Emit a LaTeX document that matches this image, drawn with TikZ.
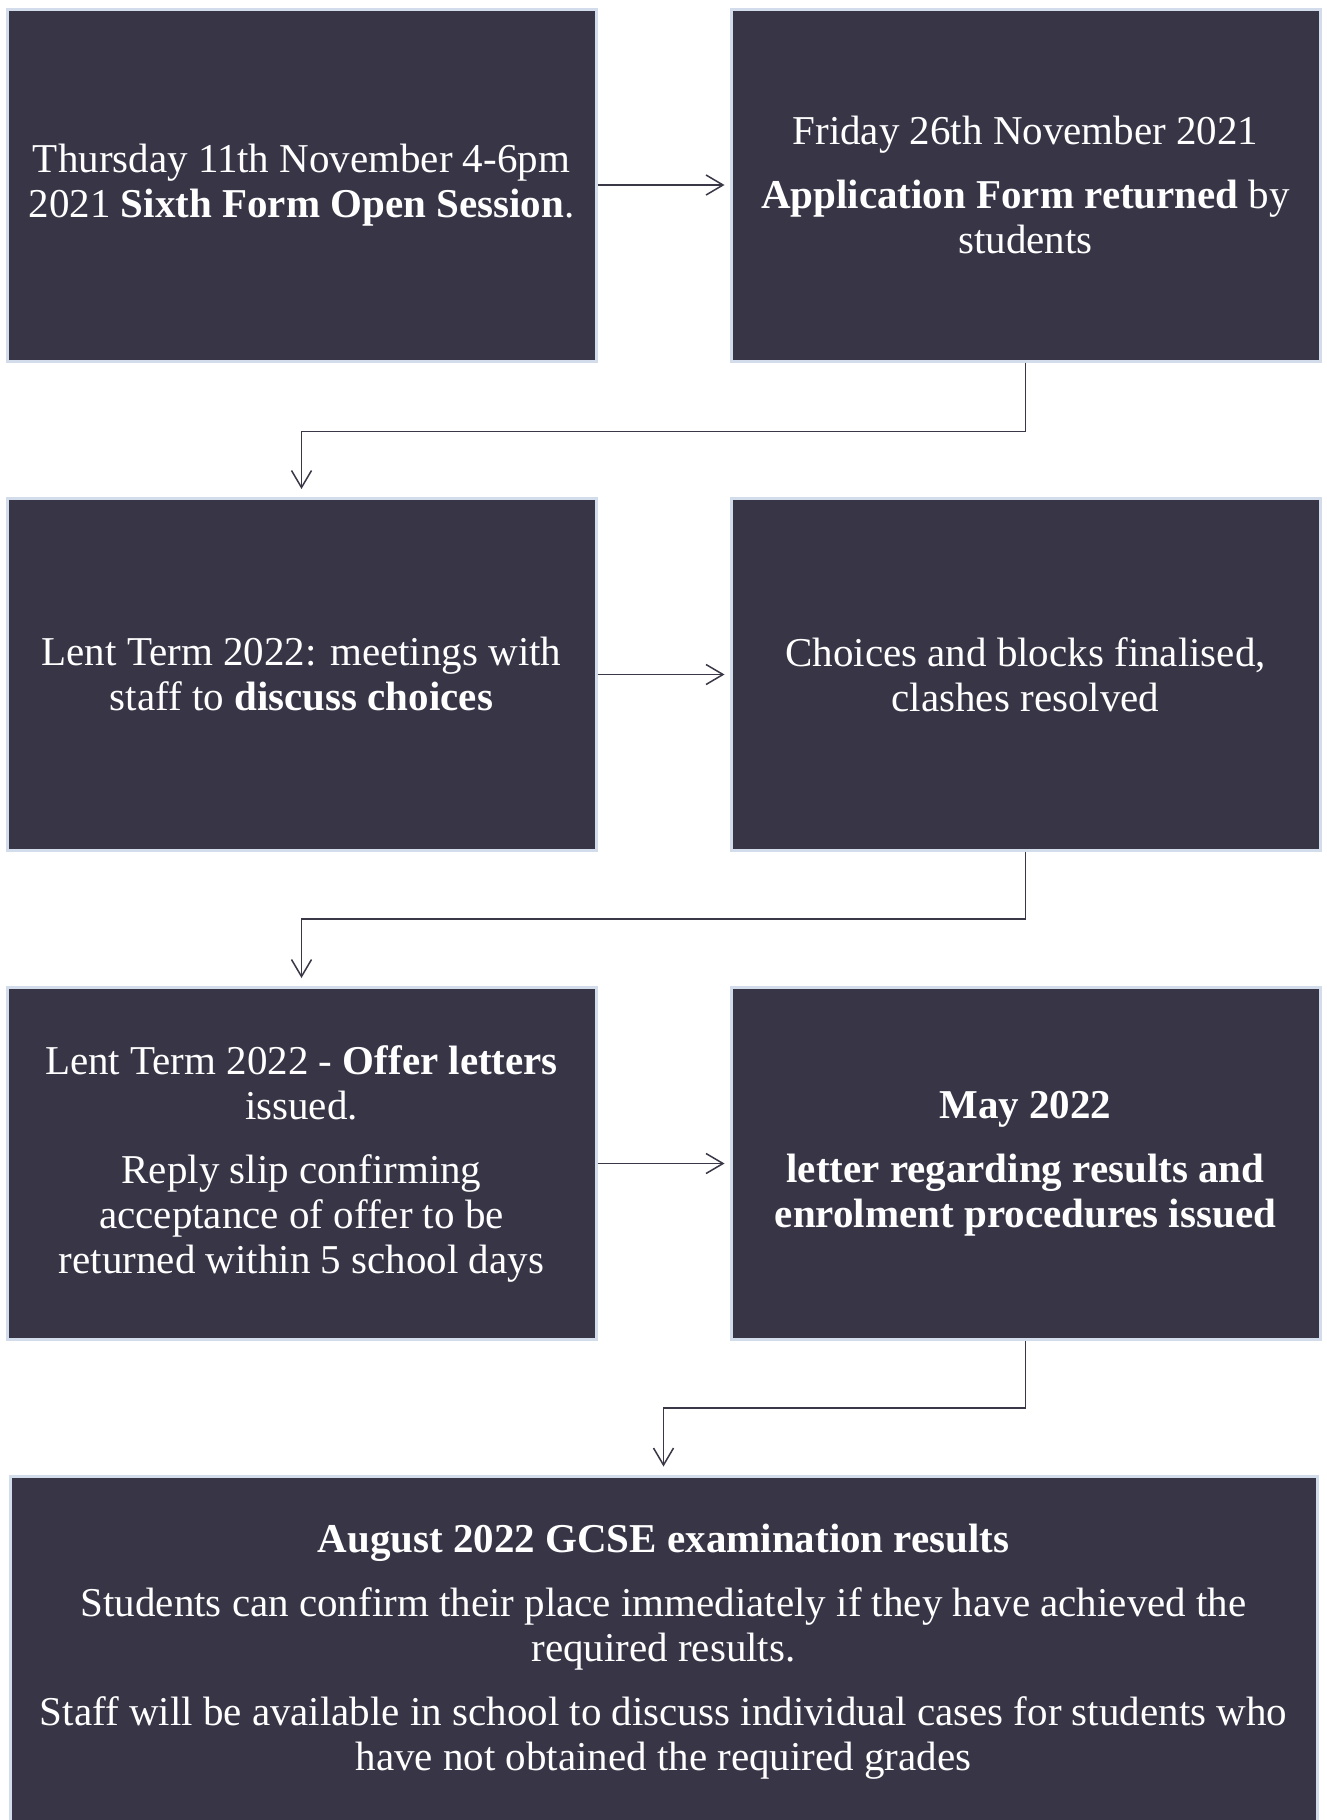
\documentclass[tikz,border=0pt]{standalone}
\usepackage{fontspec}
\setmainfont{Liberation Serif}
\usetikzlibrary{arrows.meta}
\definecolor{boxfill}{RGB}{56,53,71}
\definecolor{boxline}{RGB}{210,220,234}
\definecolor{arr}{RGB}{58,56,70}
\begin{document}
\begin{tikzpicture}[x=1pt,y=-1pt,
  box/.style={draw=boxline, line width=3pt, fill=boxfill, text=white,
    minimum width=589pt, minimum height=352pt, align=center,
    font=\fontsize{41}{45}\selectfont, inner sep=0pt},
  conn/.style={draw=arr, line width=1.5pt,
    -{Straight Barb[length=17pt,width=20pt,line width=1.5pt]}}]
\useasboundingbox (0,0) rectangle (1326,1820);
\fill[white] (0,0) rectangle (1326,1820);
\node[box] (b1) at (301.5,185) {Thursday 11th November 4-6pm\\2021 \textbf{Sixth Form Open Session}.};
\node[box] (b2) at (1025.5,185) {Friday 26th November 2021\\[19pt]\textbf{Application Form returned} by\\students};
\node[box] (b3) at (301.5,674.5) {Lent Term 2022: meetings with\\staff to \textbf{discuss choices}};
\node[box] (b4) at (1025.5,674.5) {Choices and blocks finalised,\\clashes resolved};
\node[box] (b5) at (301.5,1163.5) {Lent Term 2022 - \textbf{Offer letters}\\issued.\\[19pt]Reply slip confirming\\acceptance of offer to be\\returned within 5 school days};
\node[box] (b6) at (1025.5,1163.5) {\textbf{May 2022}\\[19pt]\textbf{letter regarding results and}\\\textbf{enrolment procedures issued}};
\node[box, minimum width=1307pt] (b7) at (663.5,1652) {\textbf{August 2022 GCSE examination results}\\[19pt]Students can confirm their place immediately if they have achieved the\\required results.\\[19pt]Staff will be available in school to discuss individual cases for students who\\have not obtained the required grades};
\draw[conn, shorten >=5pt] (b1.east) -- (b2.west);
\draw[conn, shorten >=5pt] (b3.east) -- (b4.west);
\draw[conn, shorten >=5pt] (b5.east) -- (b6.west);
\draw[conn, shorten >=8pt] (b2.south) -- ++(0,69) -| (b3.north);
\draw[conn, shorten >=8pt] (b4.south) -- ++(0,67) -| (b5.north);
\draw[conn, shorten >=8pt] (b6.south) -- ++(0,67) -| (b7.north);
\end{tikzpicture}
\end{document}
